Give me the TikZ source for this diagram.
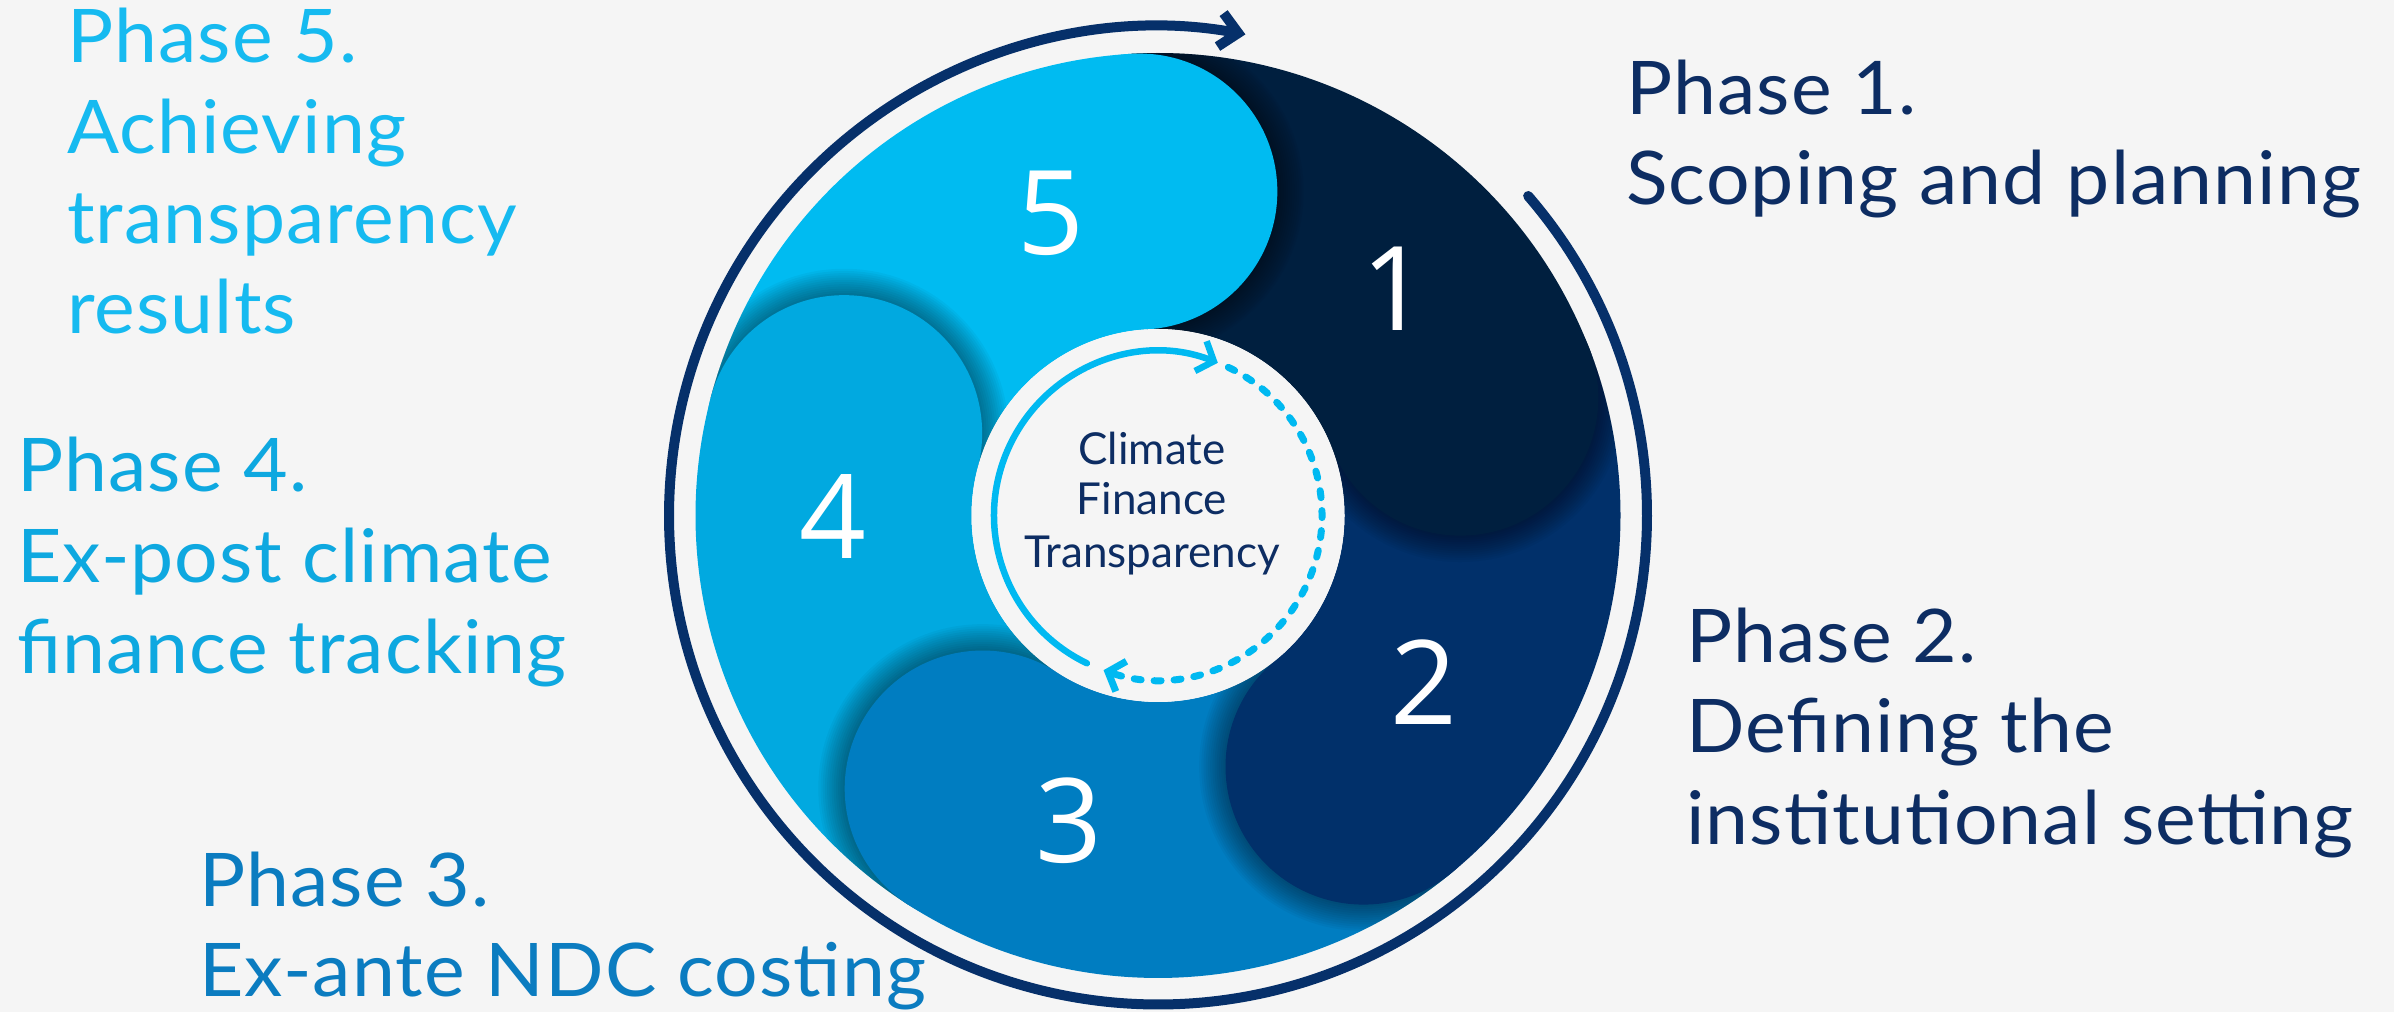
\documentclass[tikz,border=0pt]{standalone}
\usepackage{fontspec}
\setmainfont{Lato}
\newfontfamily\phasefont{Lato}[FakeStretch=1.04,LetterSpace=1.5]
\newfontfamily\digitfont{Open Sans}
\usetikzlibrary{arrows.meta,calc}
\definecolor{bgc}{HTML}{F5F5F5}
\definecolor{pa}{HTML}{001F3F}
\definecolor{pb}{HTML}{01306A}
\definecolor{pc}{HTML}{007DC1}
\definecolor{pd}{HTML}{01A9E0}
\definecolor{pe}{HTML}{00BBF1}
\definecolor{ringc}{HTML}{06306A}
\definecolor{navyt}{HTML}{0D2D63}
\definecolor{txte}{HTML}{16BAF0}
\definecolor{txtd}{HTML}{0EA8E0}
\definecolor{txtc}{HTML}{0B7CC0}
\definecolor{cyanarr}{HTML}{00B9F1}
\begin{document}
\begin{tikzpicture}[x=1pt,y=1pt,
  num/.style={text=white,font=\digitfont\fontsize{117}{117}\selectfont,inner sep=0pt},
  phase/.style={anchor=base west,inner sep=0pt,font=\phasefont\fontsize{74}{90}\selectfont},
  ctext/.style={anchor=base,inner sep=0pt,text=navyt,font=\fontsize{44}{52}\selectfont}]
\useasboundingbox (0,0) rectangle (2394,1012);
\fill[bgc] (0,0) rectangle (2394,1012);
\coordinate (C) at (1158,496.5);
\def\Rd{462.5}
\def\Ri{186.5}
\def\Rm{324.5}
\def\Rb{138}
% petal sectors
\foreach \a/\b/\col in {93.3/21.3/pa, 21.3/-50.7/pb, -50.7/-122.7/pc, -122.7/-194.7/pd, 165.3/93.3/pe}{
  \fill[\col] ([shift={(\a:\Rd)}]C) arc[start angle=\a, end angle=\b, radius=\Rd]
     -- ([shift={(\b:\Ri)}]C) arc[start angle=\b, end angle=\a, radius=\Ri] -- cycle;
}
% bulges with soft shadows
\foreach \b/\col in {21.3/pa, -50.7/pb, -122.7/pc, 165.3/pd, 93.3/pe}{
  \pgfmathsetmacro{\bb}{\b-70}
  \begin{scope}
    \clip (C) circle[radius=\Rd];
    \clip (C) -- ([shift={(\b:700)}]C) -- ([shift={(\bb:700)}]C) -- cycle;
    \foreach \i in {1,...,12}{
      \pgfmathsetmacro{\rr}{\Rb+\i*2.2}
      \fill[black,opacity=0.035] ([shift={(\b:\Rm)}]C) circle[radius=\rr];
    }
  \end{scope}
  \fill[\col] ([shift={(\b:\Rm)}]C) circle[radius=\Rb];
}
% inner circle
\fill[bgc] (C) circle[radius=\Ri];
% numbers
\node[num] (n5) at (1051,799) {5};
\node[num] (n1) at (1395,723) {1};
\node[num] (n2) at (1424,330) {2};
\node[num] (n3) at (1069,191) {3};
\node[num] (n4) at (833,495) {4};
% inner cycle arrows
\coordinate (s1) at ([shift={(244.3:164)}]C);
\coordinate (s2) at ([shift={(64.6:164)}]C);
\draw[cyanarr,line width=6.5pt,line cap=round,-{Straight Barb[length=14pt,width=32pt]}]
  (s1) arc[start angle=244.3, end angle=68.6, radius=164];
\draw[cyanarr,line width=7pt,line cap=round,dash pattern=on 7pt off 13pt,-{Straight Barb[length=14pt,width=32pt]}]
  (s2) arc[start angle=64.6, end angle=-109.4, radius=164];
% center text
\node[ctext] (ct1) at (1152,547) {Climate};
\node[ctext] (ct2) at (1152,497) {Finance};
\node[ctext] (ct3) at (1152,444) {Transparency};
% outer ring
\coordinate (o1) at ([shift={(40.8:489)}]C);
\draw[ringc,line width=10pt,line cap=round,-{Straight Barb[length=18pt,width=34pt]}]
  (o1) arc[start angle=40.8, end angle=-280.3, radius=489];
% phase labels
\node[phase,text=navyt] (p1a) at (1626,897) {Phase 1.};
\node[phase,text=navyt] (p1b) at (1626,807) {Scoping and planning};
\node[phase,text=navyt] (p2a) at (1686,349) {Phase 2.};
\node[phase,text=navyt] (p2b) at (1686,259) {Defining the};
\node[phase,text=navyt] (p2c) at (1686,167) {institutional setting};
\node[phase,text=txtc] (p3a) at (199,105) {Phase 3.};
\node[phase,text=txtc] (p3b) at (199,15) {Ex-ante NDC costing};
\node[phase,text=txtd] (p4a) at (17,520) {Phase 4.};
\node[phase,text=txtd] (p4b) at (17,429) {Ex-post climate};
\node[phase,text=txtd] (p4c) at (17,338) {finance tracking};
\node[phase,text=txte] (p5a) at (67,949) {Phase 5.};
\node[phase,text=txte] (p5b) at (67,858) {Achieving};
\node[phase,text=txte] (p5c) at (67,768) {transparency};
\node[phase,text=txte] (p5d) at (67,678) {results};
\end{tikzpicture}
\end{document}
